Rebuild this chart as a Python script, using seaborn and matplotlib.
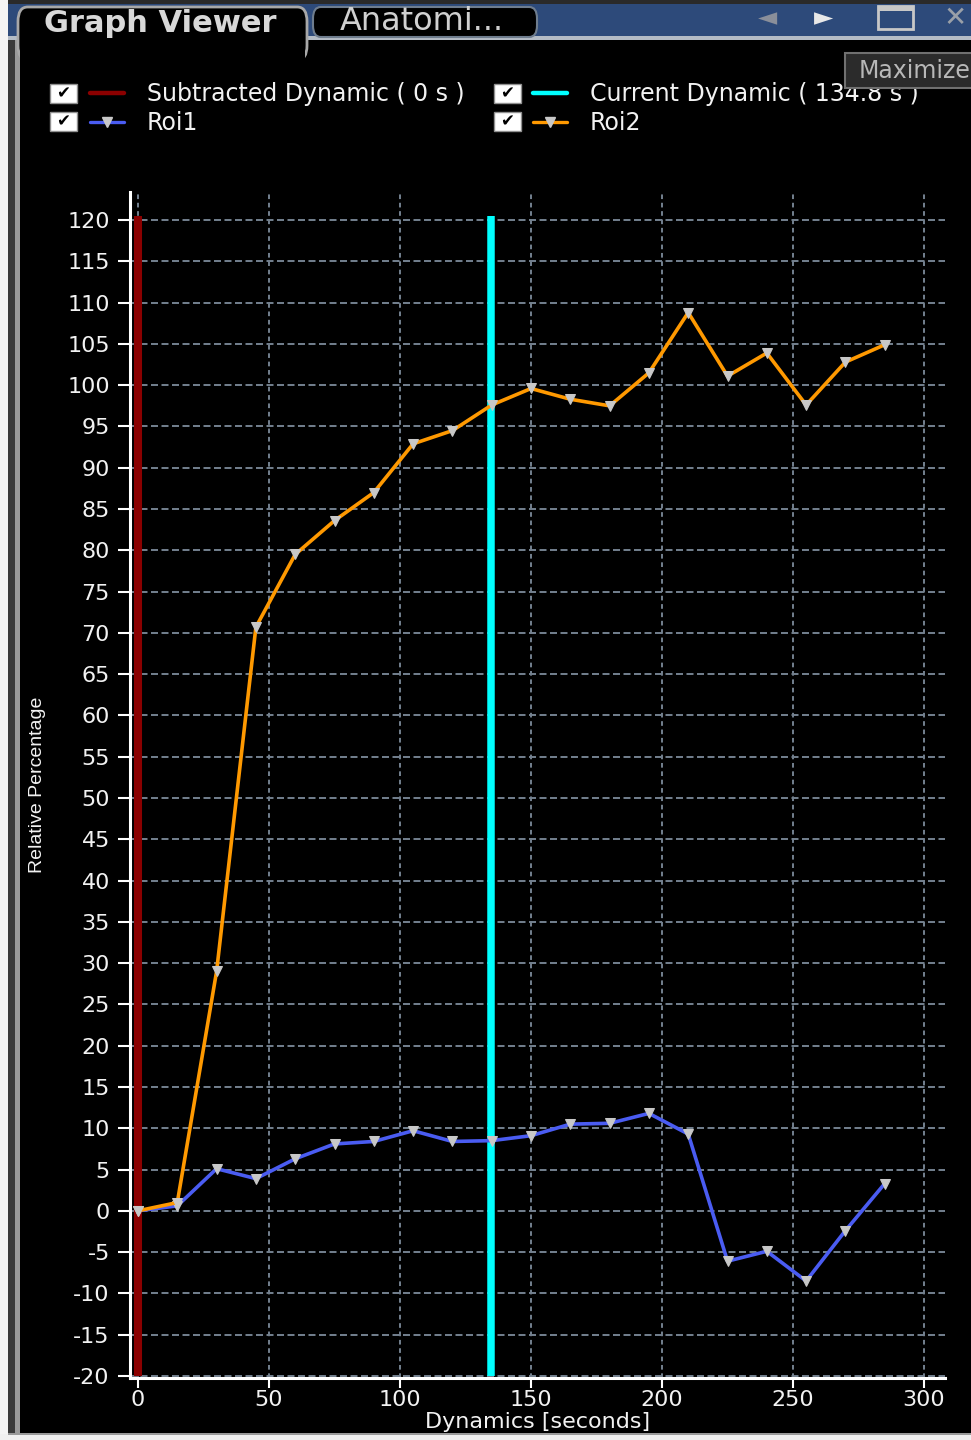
import matplotlib
matplotlib.use("Agg")
import matplotlib.pyplot as plt
from matplotlib.patches import Rectangle, FancyBboxPatch
from matplotlib.lines import Line2D
import seaborn as sns
import pandas as pd

# values
times = [0, 15, 30, 45, 60, 75, 90, 105, 120, 135,
         150, 165, 180, 195, 210, 225, 240, 255, 270, 285]
roi1 = [0.0, 0.6, 5.1, 3.9, 6.3, 8.1, 8.4, 9.7, 8.4, 8.5,
        9.1, 10.5, 10.6, 11.8, 9.3, -6.1, -4.9, -8.5, -2.4, 3.3]
roi2 = [0.0, 1.0, 29.0, 70.7, 79.5, 83.6, 87.0, 92.9, 94.5, 97.6,
        99.6, 98.3, 97.5, 101.5, 108.8, 101.1, 103.9, 97.6, 102.8, 104.9]
subtracted_dynamic = 0.0
current_dynamic = 134.8
x_ticks = [0, 50, 100, 150, 200, 250, 300]
y_ticks = [-20, -15, -10, -5, 0, 5, 10, 15, 20, 25, 30, 35, 40, 45, 50, 55,
           60, 65, 70, 75, 80, 85, 90, 95, 100, 105, 110, 115, 120]
legend_labels = ["Subtracted Dynamic ( 0 s )", "Roi1",
                 "Current Dynamic ( 134.8 s )", "Roi2"]

df = pd.DataFrame({
    "Dynamics": times + times,
    "Relative": roi1 + roi2,
    "ROI": ["Roi1"] * len(times) + ["Roi2"] * len(times),
})

sns.set_theme(style="dark")
plt.rcParams["font.family"] = ["DejaVu Sans"]
plt.rcParams["axes.unicode_minus"] = False

W, H = 971, 1440


def fx(x):
    return x / W


def fy(y):
    return 1 - y / H


fig = plt.figure(figsize=(W / 100, H / 100), dpi=100, facecolor="black")
ax = fig.add_axes([fx(130), fy(1378), 815 / W, 1186 / H])
ax.set_facecolor("black")

palette = {"Roi1": "#4a5cf2", "Roi2": "#ff9900"}
marker_grey = "#c8c8c8"
sns.lineplot(data=df, x="Dynamics", y="Relative", hue="ROI", palette=palette,
             marker="v", markersize=7.5, markerfacecolor=marker_grey,
             markeredgecolor=marker_grey, linewidth=2.6, errorbar=None,
             sort=False, legend=False, ax=ax, zorder=4)
for ln in ax.lines:
    ln.set_markerfacecolor(marker_grey)
    ln.set_markeredgecolor(marker_grey)

ax.vlines(subtracted_dynamic, -20, 120.5, colors="#8b0000", linewidth=5.8, zorder=3)
ax.vlines(current_dynamic, -20, 120.5, colors="#00ffff", linewidth=5.4, zorder=3)

ax.set_xlim(-3.05, 308)
ax.set_ylim(-20.25, 123.4)
ax.set_xticks(x_ticks)
ax.set_yticks(y_ticks)
ax.set_axisbelow(True)
grid_col = "#74818f"
ax.grid(True, axis="y", color=grid_col, linestyle=(0, (3.6, 1.8)), linewidth=1.4)
ax.grid(True, axis="x", color=grid_col, linestyle=(0, (2.4, 1.9)), linewidth=1.4)

for side in ["top", "right"]:
    ax.spines[side].set_visible(False)
for side in ["left", "bottom"]:
    ax.spines[side].set_visible(True)
    ax.spines[side].set_color("white")
    ax.spines[side].set_linewidth(2.2)

ax.tick_params(axis="y", left=True, length=8.5, width=1.5, color="white",
               labelcolor="#f2f2f2", labelsize=16, pad=6)
ax.tick_params(axis="x", bottom=True, length=7, width=1.5, color="white",
               labelcolor="#f2f2f2", labelsize=16, pad=2)

ax.set_xlabel("Dynamics [seconds]", color="#f2f2f2", fontsize=16)
ax.xaxis.set_label_coords(0.5, -0.0285)
ax.set_ylabel("Relative Percentage", color="#f2f2f2", fontsize=14,
              family=["Liberation Sans"], fontstretch="condensed")
ax.yaxis.set_label_coords(-0.103, 0.5)

# window chrome
fig.patches.append(Rectangle((0, 0), fx(8), 1, transform=fig.transFigure,
                             facecolor="#f4f4f4", edgecolor="none", zorder=1))
fig.patches.append(Rectangle((fx(8), 0), fx(7), fy(30), transform=fig.transFigure,
                             facecolor="#3a3a3a", edgecolor="none", zorder=1))
fig.patches.append(Rectangle((fx(15), 0), fx(5), fy(30), transform=fig.transFigure,
                             facecolor="#9a9a9a", edgecolor="none", zorder=1))
fig.patches.append(Rectangle((0, 0), 1, 6 / H, transform=fig.transFigure,
                             facecolor="#f0f0f0", edgecolor="none", zorder=1))
fig.patches.append(Rectangle((fx(8), 5 / H), 1, 2 / H, transform=fig.transFigure,
                             facecolor="#9a9a9a", edgecolor="none", zorder=1))
fig.patches.append(Rectangle((fx(8), fy(36)), 1, 36 / H, transform=fig.transFigure,
                             facecolor="#2d4a7a", edgecolor="none", zorder=1))
fig.patches.append(Rectangle((fx(8), fy(4)), 1, 4 / H, transform=fig.transFigure,
                             facecolor="#2a2a2a", edgecolor="none", zorder=1))
fig.patches.append(Rectangle((fx(8), fy(40)), 1, 4 / H, transform=fig.transFigure,
                             facecolor="#b4bcc6", edgecolor="none", zorder=1))

fig.patches.append(FancyBboxPatch((fx(313), fy(37)), fx(224), 30 / H,
                                  boxstyle="round,pad=0,rounding_size=0.008",
                                  transform=fig.transFigure, facecolor="black",
                                  edgecolor="#6f7d8e", linewidth=1.5, zorder=2))
fig.patches.append(FancyBboxPatch((fx(18), fy(60)), fx(289), 53 / H,
                                  boxstyle="round,pad=0,rounding_size=0.01",
                                  transform=fig.transFigure, facecolor="black",
                                  edgecolor="#a8a8a8", linewidth=2, zorder=2))
fig.patches.append(Rectangle((fx(20), fy(70)), fx(285), 30 / H, transform=fig.transFigure,
                             facecolor="black", edgecolor="none", zorder=2.1))
fig.text(fx(44), fy(23), "Graph Viewer", color="#d8d8d8", fontsize=22,
         fontweight="bold", va="center", ha="left", zorder=3)
fig.text(fx(340), fy(22), "Anatomi...", color="#d0d0d0", fontsize=23,
         va="center", ha="left", zorder=3)

fig.text(fx(768), fy(18), "\u25c4", color="#8a8f9a", fontsize=18, ha="center", va="center")
fig.text(fx(824), fy(18), "\u25ba", color="#e8e8e8", fontsize=18, ha="center", va="center")
fig.patches.append(Rectangle((fx(878), fy(29)), fx(35), 23 / H, transform=fig.transFigure,
                             facecolor="none", edgecolor="#c8c8c8", linewidth=2, zorder=2))
fig.patches.append(Rectangle((fx(878), fy(11)), fx(35), 4 / H, transform=fig.transFigure,
                             facecolor="#c8c8c8", edgecolor="none", zorder=2))
fig.text(fx(955), fy(18), "\u2715", color="#9aa0a8", fontsize=20, ha="center", va="center")

# legend
h_sub = Line2D([], [], color="#8b0000", linewidth=3.2)
h_cur = Line2D([], [], color="#00ffff", linewidth=3.2)
h_r1 = Line2D([], [], color=palette["Roi1"], linewidth=2.4, marker="v",
              markersize=7, markerfacecolor=marker_grey, markeredgecolor=marker_grey)
h_r2 = Line2D([], [], color=palette["Roi2"], linewidth=2.4, marker="v",
              markersize=7, markerfacecolor=marker_grey, markeredgecolor=marker_grey)
leg_kw = dict(loc="upper left", frameon=False, fontsize=17, labelcolor="#f2f2f2",
              handlelength=1.45, handletextpad=0.95, labelspacing=0.22,
              borderpad=0, borderaxespad=0)
fig.legend([h_sub, h_r1], legend_labels[:2], bbox_to_anchor=(fx(90), fy(82)), **leg_kw)
fig.legend([h_cur, h_r2], legend_labels[2:], bbox_to_anchor=(fx(533), fy(82)), **leg_kw)

for bx in [50, 494]:
    for by in [84, 112]:
        fig.patches.append(Rectangle((fx(bx), fy(by + 19)), fx(27), 19 / H,
                                     transform=fig.transFigure, facecolor="white",
                                     edgecolor="#909090", linewidth=1, zorder=6))
        fig.text(fx(bx + 13.5), fy(by + 9.5), "\u2714", color="black", fontsize=12,
                 ha="center", va="center", zorder=7)

# tooltip over the legend
fig.patches.append(Rectangle((fx(845), fy(88)), fx(130), 35 / H, transform=fig.transFigure,
                             facecolor="#2b2b2b", edgecolor="#707070", linewidth=1.5,
                             zorder=10))
fig.text(fx(859), fy(71), "Maximize", color="#b8b8b8", fontsize=17,
         ha="left", va="center", zorder=11)

fig.savefig("out.png", dpi=100, facecolor=fig.get_facecolor())
